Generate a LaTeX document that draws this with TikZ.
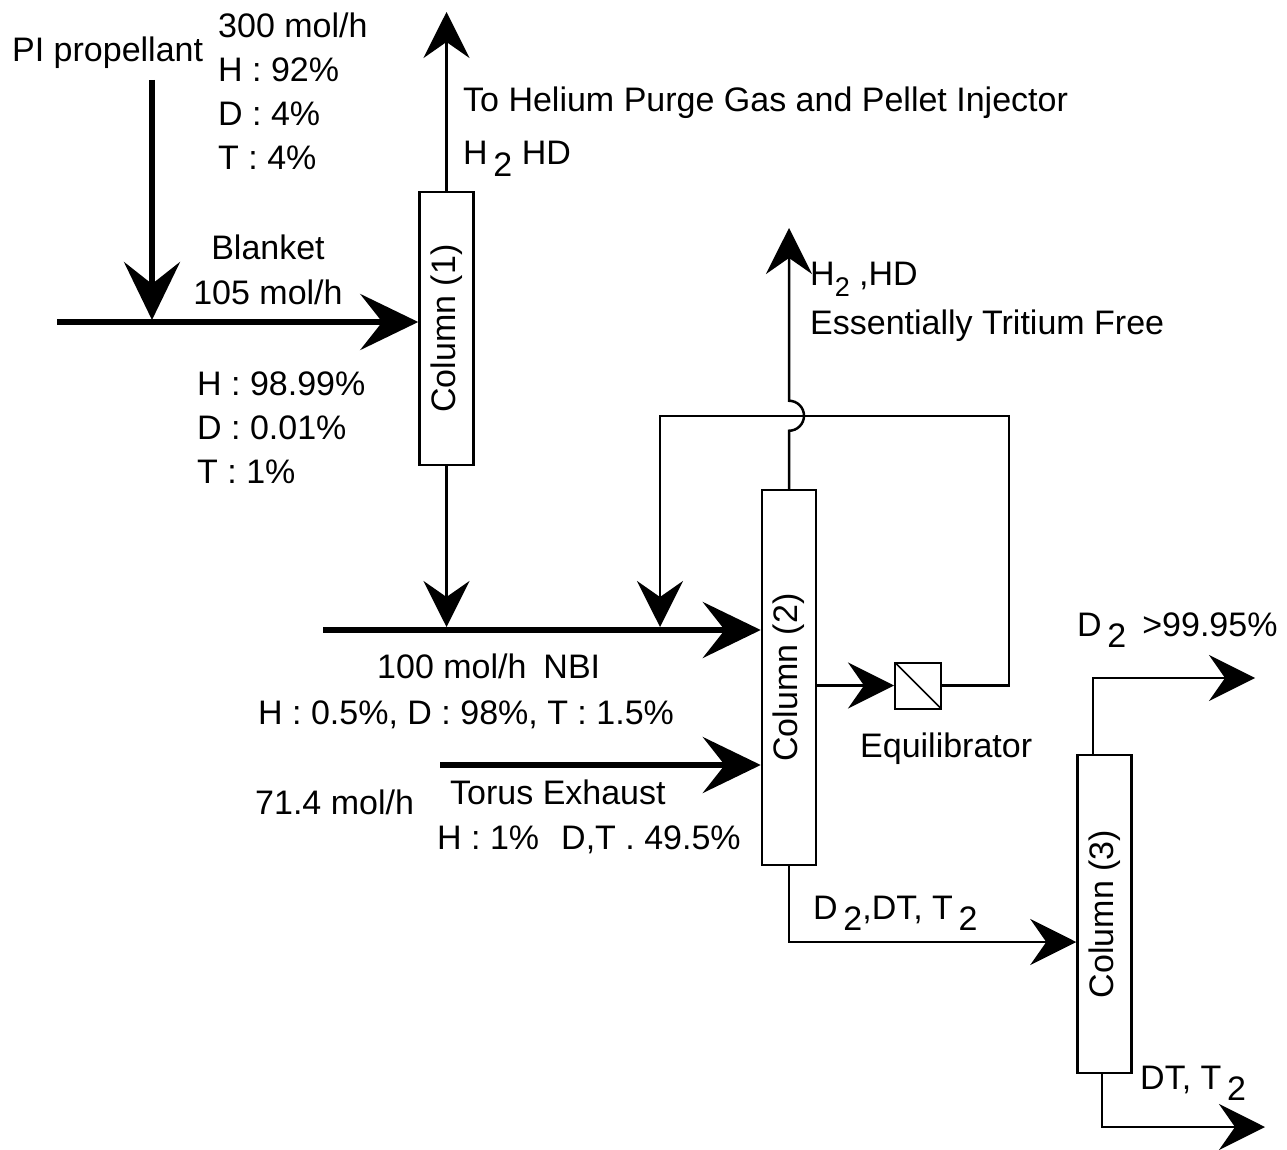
\documentclass[tikz,border=0pt]{standalone}
\usepackage{fontspec}
\setmainfont{Liberation Sans}
\usetikzlibrary{arrows.meta}
\tikzset{
    column/.style={draw, line width=2.5pt, minimum width=54pt, inner sep=0pt},
    mixer/.style={draw, line width=2pt, minimum size=46pt, inner sep=0pt,
        path picture={\draw[line width=1.5pt] (path picture bounding box.north west) -- (path picture bounding box.south east);}},
    pipe/.style={draw, line width=2.5pt, -{Stealth[length=46pt, width=46pt, inset=16pt]}},
    feed/.style={draw, line width=5.5pt, -{Stealth[length=58pt, width=56pt, inset=22pt]}},
    txt/.style={inner sep=0pt, anchor=base west, align=left}
}
\newcommand{\lowsub}[1]{\raisebox{-0.35em}{#1}}

\begin{document}
\begin{tikzpicture}[x=1pt, y=-1pt, font=\fontsize{34}{44}\selectfont]
    \useasboundingbox (0,0) rectangle (1287,1150);
    % Nodes
    \node[column, minimum height=273pt] (col1) at (446.5,328.5) {\rotatebox{90}{Column (1)}};
    \node[column, minimum height=375pt] (col2) at (789,677.5) {\rotatebox{90}{Column (2)}};
    \node[column, minimum height=318pt] (col3) at (1104.5,914) {\rotatebox{90}{Column (3)}};
    \node[mixer] (equil) at (918,685.5) {};

    % free ends
    \coordinate (c1out) at (446.5,12);
    \coordinate (pisrc) at (152,80);
    \coordinate (pijoin) at (152,320);
    \coordinate (blanketsrc) at (57,322);
    \coordinate (c1tap) at (446.5,627);
    \coordinate (nbisrc) at (323,630);
    \coordinate (torussrc) at (440,765);
    \coordinate (c2out) at (789,228);
    \coordinate (loopne) at (1009,416);
    \coordinate (loopnw) at (660,416);
    \coordinate (recyctap) at (660,627);
    \coordinate (d2out) at (1255,678);
    \coordinate (dtout) at (1265,1127);

    % edges
    \draw[feed] (pisrc) -- (pijoin);
    \draw[feed] (blanketsrc) -- (blanketsrc -| col1.west);
    \draw[pipe] (col1.north) -- (c1out);
    \draw[pipe] (col1.south) -- (c1tap);
    \draw[feed] (nbisrc) -- (nbisrc -| col2.west);
    \draw[feed] (torussrc) -- (torussrc -| col2.west);
    \draw[pipe] (col2.east |- equil.west) -- (equil.west);
    \draw[pipe] (equil.east) -| (loopne) -- (loopnw) -- (recyctap);
    \draw[pipe] (col2.north) -- ++(0,-58) arc[start angle=-90, end angle=90, radius=15pt] -- (c2out);
    \draw[pipe] (col2.south) |- ([yshift=-28pt]col3.west);
    \draw[pipe] ([xshift=-11.5pt]col3.north) |- (d2out);
    \draw[pipe] ([xshift=-2.5pt]col3.south) |- (dtout);

    % labels (multi-line ones sit on their last baseline)
    \node[txt] (pilbl) at (12,62) {PI propellant};
    \node[txt] (pimix) at (218,170) {300 mol/h\\H : 92\%\\D : 4\%\\T : 4\%};
    \node[txt, anchor=base, align=center] (blanketlbl) at (268,304) {Blanket\\105 mol/h};
    \node[txt] (blanketmix) at (197,483) {H : 98.99\%\\D : 0.01\%\\T : 1\%};
    \node[txt] (toplbl) at (463,165) {To Helium Purge Gas and Pellet Injector\\[9pt]H\,\lowsub{2} HD};
    \node[txt] (c2lbl) at (810,334) {H\lowsub{\fontsize{27}{27}\selectfont 2} ,HD\\[5pt]Essentially Tritium Free};
    \node[txt] (nbilbl) at (377,678) {100 mol/h\hspace{17pt}NBI};
    \node[txt] (nbimix) at (258,724) {H : 0.5\%, D : 98\%, T : 1.5\%};
    \node[txt] (toruslbl) at (450,804) {Torus Exhaust};
    \node[txt] (torusrate) at (255,814) {71.4 mol/h};
    \node[txt] (torusmix) at (437,849) {H : 1\%\hspace{22pt}D,T . 49.5\%};
    \node[txt] (equillbl) at (860,757) {Equilibrator};
    \node[txt] (c3feedlbl) at (813,919) {D\,\lowsub{2},DT, T\,\lowsub{2}};
    \node[txt] (d2lbl) at (1077,636) {D\,\lowsub{2}\hspace{16pt}>99.95\%};
    \node[txt] (dtlbl) at (1140,1089) {DT, T\,\lowsub{2}};
\end{tikzpicture}
\end{document}
